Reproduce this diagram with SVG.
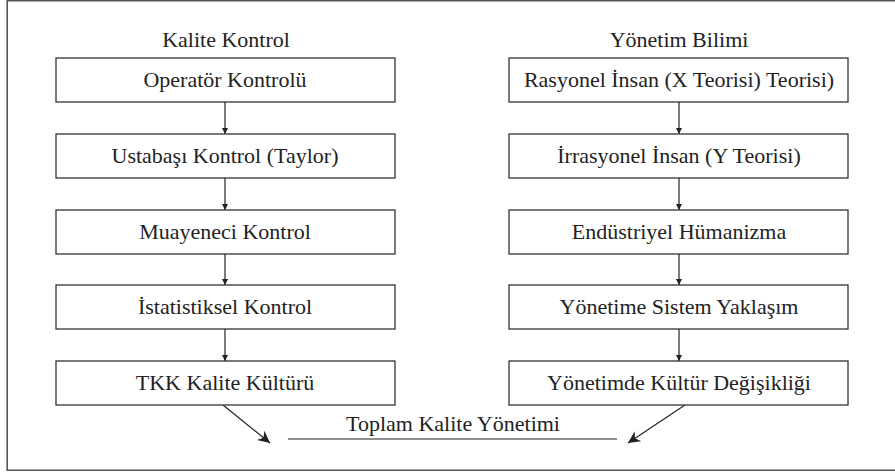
<svg xmlns="http://www.w3.org/2000/svg" width="895" height="472" viewBox="0 0 895 472">
<style>
  text { font-family: "Liberation Serif", "Times New Roman", "DejaVu Serif", serif; font-size: 22px; fill: #222; text-anchor: middle; }
  .box { fill: #fff; stroke: #333; stroke-width: 1.3; }
  .conn { stroke: #222; stroke-width: 1.2; fill: none; }
  .frame { stroke: #555; stroke-width: 1.6; fill: none; }
</style>
<defs>
  <marker id="sm" viewBox="0 0 10 10" refX="10" refY="5" markerWidth="7" markerHeight="6" markerUnits="userSpaceOnUse" orient="auto">
    <path d="M0,0 L10,5 L0,10 Z" fill="#222"/>
  </marker>
  <marker id="lg" viewBox="0 0 10 10" refX="10" refY="5" markerWidth="14" markerHeight="12" markerUnits="userSpaceOnUse" orient="auto">
    <path d="M0,0 L10,5 L0,10 L3,5 Z" fill="#222"/>
  </marker>
</defs>
<path class="frame" d="M896,0.8 H7.2 V470.2 H896"/>
<text x="226" y="47">Kalite Kontrol</text>
<text x="679" y="47">Yönetim Bilimi</text>
<g id="connectors">
  <line class="conn" x1="225" y1="102" x2="225" y2="134" marker-end="url(#sm)"/>
  <line class="conn" x1="225" y1="178" x2="225" y2="210" marker-end="url(#sm)"/>
  <line class="conn" x1="225" y1="254" x2="225" y2="285" marker-end="url(#sm)"/>
  <line class="conn" x1="225" y1="329" x2="225" y2="361" marker-end="url(#sm)"/>
  <line class="conn" x1="679" y1="102" x2="679" y2="134" marker-end="url(#sm)"/>
  <line class="conn" x1="679" y1="178" x2="679" y2="210" marker-end="url(#sm)"/>
  <line class="conn" x1="679" y1="254" x2="679" y2="285" marker-end="url(#sm)"/>
  <line class="conn" x1="679" y1="329" x2="679" y2="361" marker-end="url(#sm)"/>
  <line class="conn" x1="223" y1="405" x2="270" y2="443" marker-end="url(#lg)"/>
  <line class="conn" x1="685" y1="405" x2="628" y2="443" marker-end="url(#lg)"/>
</g>
<g id="n1"><rect class="box" x="56" y="58" width="339" height="44"/><text x="225" y="87">Operatör Kontrolü</text></g>
<g id="n2"><rect class="box" x="56" y="134" width="339" height="44"/><text x="225" y="163">Ustabaşı Kontrol (Taylor)</text></g>
<g id="n3"><rect class="box" x="56" y="210" width="339" height="44"/><text x="225" y="239">Muayeneci Kontrol</text></g>
<g id="n4"><rect class="box" x="56" y="285" width="339" height="44"/><text x="225" y="314">İstatistiksel Kontrol</text></g>
<g id="n5"><rect class="box" x="56" y="361" width="339" height="44"/><text x="225" y="390">TKK Kalite Kültürü</text></g>
<g id="m1"><rect class="box" x="509" y="58" width="339" height="44"/><text x="679" y="87">Rasyonel İnsan (X Teorisi) Teorisi)</text></g>
<g id="m2"><rect class="box" x="509" y="134" width="339" height="44"/><text x="679" y="163">İrrasyonel İnsan (Y Teorisi)</text></g>
<g id="m3"><rect class="box" x="509" y="210" width="339" height="44"/><text x="679" y="239">Endüstriyel Hümanizma</text></g>
<g id="m4"><rect class="box" x="509" y="285" width="339" height="44"/><text x="679" y="314">Yönetime Sistem Yaklaşım</text></g>
<g id="m5"><rect class="box" x="509" y="361" width="339" height="44"/><text x="679" y="390">Yönetimde Kültür Değişikliği</text></g>
<g id="tky">
  <text x="453" y="431">Toplam Kalite Yönetimi</text>
  <line class="conn" x1="288" y1="439" x2="617" y2="439"/>
</g>
</svg>
